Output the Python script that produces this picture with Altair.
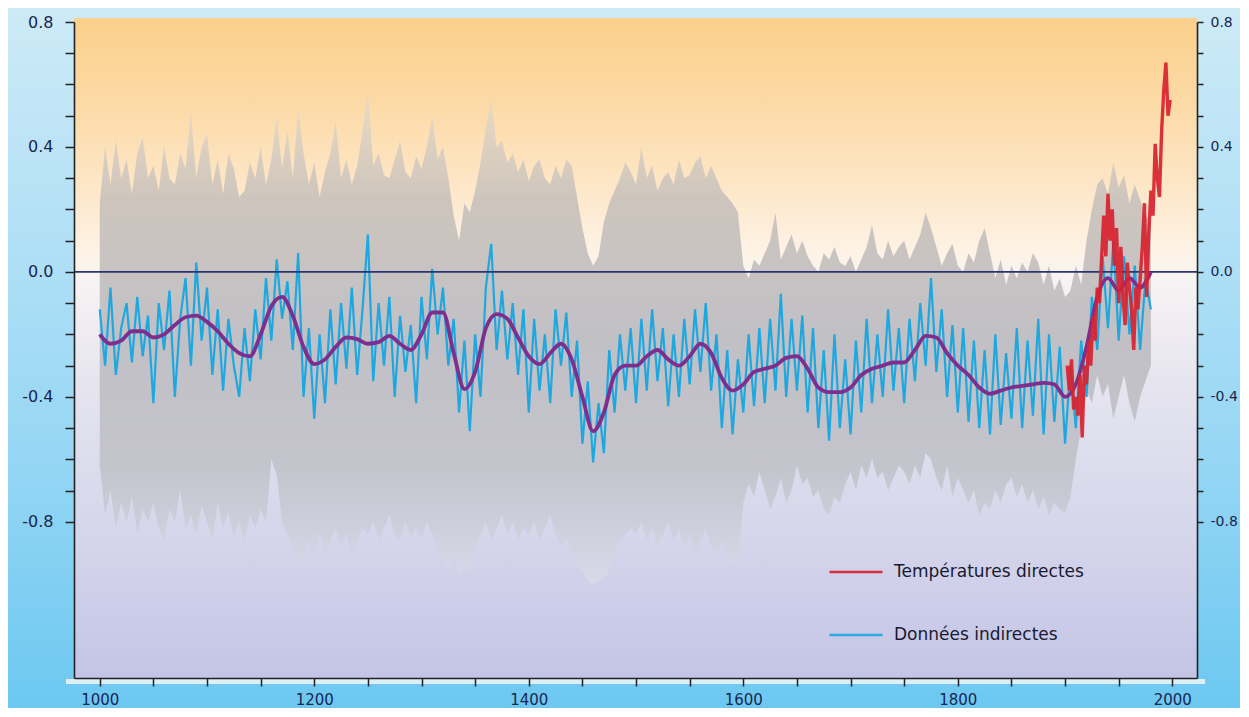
import altair as alt
import pandas as pd

# ---------------- data ----------------
RED_LABEL = "Températures directes"
BLUE_LABEL = "Données indirectes"

YEARS5 = list(range(1000, 1981, 5))
YEARS10 = list(range(1000, 1981, 10))
RED_YEARS = list(range(1902, 1999, 2))

# upper edge of the grey uncertainty band (5-year steps)
GREY_UPPER = [
    0.22, 0.40, 0.28, 0.42, 0.30, 0.36, 0.25, 0.38, 0.43, 0.30,
    0.34, 0.26, 0.40, 0.30, 0.28, 0.38, 0.33, 0.51, 0.30, 0.40,
    0.44, 0.28, 0.36, 0.25, 0.38, 0.33, 0.24, 0.26, 0.35, 0.30,
    0.40, 0.28, 0.36, 0.49, 0.33, 0.45, 0.30, 0.52, 0.38, 0.28,
    0.35, 0.24, 0.32, 0.38, 0.48, 0.30, 0.36, 0.28, 0.34, 0.45,
    0.58, 0.34, 0.38, 0.31, 0.30, 0.36, 0.42, 0.32, 0.30, 0.37,
    0.33, 0.40, 0.50, 0.36, 0.40, 0.30, 0.18, 0.10, 0.22, 0.19,
    0.26, 0.35, 0.46, 0.55, 0.40, 0.42, 0.35, 0.38, 0.32, 0.36,
    0.29, 0.34, 0.36, 0.30, 0.28, 0.34, 0.30, 0.36, 0.34, 0.24,
    0.14, 0.06, 0.02, 0.05, 0.16, 0.22, 0.26, 0.30, 0.35, 0.32,
    0.28, 0.40, 0.30, 0.34, 0.26, 0.30, 0.32, 0.28, 0.36, 0.30,
    0.31, 0.35, 0.37, 0.30, 0.34, 0.30, 0.26, 0.24, 0.22, 0.19,
    0.02, -0.02, 0.04, 0.02, 0.06, 0.10, 0.19, 0.04, 0.08, 0.12,
    0.06, 0.10, 0.05, 0.02, 0.00, 0.06, 0.04, 0.08, 0.03, 0.02,
    0.05, 0.00, 0.04, 0.08, 0.15, 0.06, 0.04, 0.10, 0.05, 0.08,
    0.10, 0.04, 0.08, 0.12, 0.19, 0.14, 0.08, 0.02, 0.06, 0.09,
    0.02, 0.00, 0.06, 0.03, 0.10, 0.14, 0.06, -0.02, 0.04, -0.04,
    0.02, -0.02, 0.03, 0.00, 0.06, 0.03, -0.04, 0.02, -0.06, -0.02,
    -0.08, -0.06, 0.02, -0.04, 0.10, 0.20, 0.28, 0.30, 0.25, 0.35,
    0.27, 0.31, 0.22, 0.28, 0.23, 0.18, 0.16,
]

# lower edge of the grey uncertainty band (5-year steps)
GREY_LOWER = [
    -0.62, -0.78, -0.70, -0.82, -0.74, -0.80, -0.72, -0.84, -0.76, -0.80,
    -0.74, -0.82, -0.86, -0.76, -0.80, -0.70, -0.82, -0.78, -0.84, -0.75,
    -0.80, -0.86, -0.74, -0.82, -0.77, -0.85, -0.80, -0.86, -0.78, -0.82,
    -0.76, -0.80, -0.60, -0.65, -0.80, -0.84, -0.88, -0.93, -0.90, -0.86,
    -0.92, -0.84, -0.90, -0.86, -0.82, -0.88, -0.84, -0.90, -0.86, -0.82,
    -0.84, -0.80, -0.86, -0.82, -0.78, -0.84, -0.86, -0.80, -0.85, -0.82,
    -0.86, -0.80, -0.84, -0.88, -0.92, -0.96, -0.90, -0.98, -0.94, -0.96,
    -0.90, -0.84, -0.80, -0.86, -0.82, -0.78, -0.84, -0.80, -0.86, -0.82,
    -0.84, -0.80, -0.86, -0.82, -0.78, -0.84, -0.88, -0.85, -0.90, -0.94,
    -0.96, -0.99, -1.00, -0.99, -0.98, -0.96, -0.90, -0.86, -0.84, -0.82,
    -0.84, -0.80, -0.86, -0.82, -0.88, -0.84, -0.80, -0.86, -0.82, -0.88,
    -0.84, -0.90, -0.86, -0.82, -0.88, -0.92, -0.86, -0.90, -0.94, -0.92,
    -0.74, -0.68, -0.72, -0.64, -0.70, -0.76, -0.72, -0.66, -0.74, -0.70,
    -0.62, -0.68, -0.66, -0.72, -0.70, -0.76, -0.78, -0.72, -0.74, -0.68,
    -0.64, -0.70, -0.62, -0.66, -0.60, -0.66, -0.64, -0.70, -0.66, -0.62,
    -0.64, -0.68, -0.62, -0.66, -0.58, -0.60, -0.66, -0.70, -0.62, -0.72,
    -0.66, -0.70, -0.74, -0.70, -0.78, -0.74, -0.76, -0.70, -0.74, -0.68,
    -0.66, -0.72, -0.68, -0.74, -0.70, -0.76, -0.72, -0.78, -0.74, -0.76,
    -0.77, -0.72, -0.60, -0.50, -0.38, -0.42, -0.33, -0.40, -0.36, -0.47,
    -0.40, -0.33, -0.42, -0.48, -0.40, -0.35, -0.30,
]

# proxy reconstruction (blue, 5-year steps)
PROXY = [
    -0.12, -0.30, -0.05, -0.33, -0.18, -0.10, -0.29, -0.08, -0.27, -0.14,
    -0.42, -0.10, -0.25, -0.06, -0.40, -0.15, -0.02, -0.30, 0.03, -0.22,
    -0.05, -0.33, -0.12, -0.38, -0.15, -0.30, -0.40, -0.18, -0.35, -0.12,
    -0.28, -0.02, -0.22, 0.04, -0.15, -0.03, -0.25, 0.06, -0.40, -0.18,
    -0.47, -0.20, -0.42, -0.12, -0.36, -0.10, -0.31, -0.05, -0.33, -0.12,
    0.12, -0.35, -0.10, -0.30, -0.08, -0.40, -0.14, -0.32, -0.17, -0.42,
    -0.08, -0.28, 0.01, -0.20, -0.05, -0.30, -0.15, -0.45, -0.22, -0.51,
    -0.20, -0.40, -0.05, 0.09, -0.25, -0.06, -0.28, -0.10, -0.33, -0.12,
    -0.45, -0.15, -0.38, -0.20, -0.42, -0.12, -0.30, -0.13, -0.40, -0.22,
    -0.55, -0.35, -0.61, -0.42, -0.58, -0.25, -0.45, -0.20, -0.38, -0.18,
    -0.42, -0.15, -0.38, -0.12, -0.35, -0.18, -0.43, -0.20, -0.40, -0.15,
    -0.36, -0.12, -0.32, -0.10, -0.38, -0.20, -0.50, -0.25, -0.52, -0.28,
    -0.45, -0.20, -0.43, -0.18, -0.42, -0.15, -0.38, -0.07, -0.40, -0.15,
    -0.38, -0.14, -0.45, -0.18, -0.50, -0.25, -0.54, -0.20, -0.50, -0.28,
    -0.52, -0.22, -0.45, -0.15, -0.42, -0.20, -0.40, -0.12, -0.38, -0.18,
    -0.42, -0.15, -0.35, -0.10, -0.30, -0.02, -0.32, -0.12, -0.40, -0.17,
    -0.45, -0.18, -0.48, -0.22, -0.50, -0.25, -0.52, -0.20, -0.49, -0.26,
    -0.47, -0.18, -0.50, -0.22, -0.46, -0.15, -0.52, -0.20, -0.48, -0.24,
    -0.55, -0.30, -0.50, -0.22, -0.40, -0.08, -0.25, 0.05, -0.18, 0.10,
    -0.22, 0.05, -0.20, 0.02, -0.25, -0.02, -0.12,
]

# smoothed curve (purple, 10-year steps)
SMOOTH = [
    -0.20, -0.23, -0.22, -0.19, -0.19, -0.21, -0.20, -0.17, -0.145, -0.14,
    -0.16, -0.19, -0.23, -0.26, -0.27, -0.20, -0.11, -0.08, -0.14, -0.24,
    -0.295, -0.28, -0.24, -0.21, -0.215, -0.23, -0.225, -0.205, -0.23, -0.25,
    -0.20, -0.13, -0.13, -0.26, -0.375, -0.32, -0.18, -0.135, -0.15, -0.21,
    -0.27, -0.295, -0.26, -0.23, -0.28, -0.40, -0.51, -0.45, -0.33, -0.30,
    -0.30, -0.27, -0.25, -0.28, -0.30, -0.27, -0.23, -0.26, -0.34, -0.38,
    -0.36, -0.32, -0.31, -0.30, -0.275, -0.27, -0.31, -0.37, -0.385, -0.385,
    -0.37, -0.33, -0.31, -0.30, -0.29, -0.29, -0.25, -0.205, -0.21, -0.26,
    -0.30, -0.33, -0.37, -0.39, -0.38, -0.37, -0.365, -0.36, -0.355, -0.36,
    -0.40, -0.36, -0.24, -0.08, -0.02, -0.06, -0.02, -0.05, 0.00,
]

# instrumental record (red, 2-year steps)
INSTRUMENTAL = [
    -0.30, -0.38, -0.28, -0.44, -0.40, -0.46, -0.33, -0.53, -0.30, -0.36,
    -0.22, -0.30, -0.14, -0.22, -0.05, -0.10, 0.04, 0.18, 0.05, 0.25,
    0.10, 0.20, 0.02, 0.14, -0.10, 0.08, -0.08, -0.17, 0.03, -0.05,
    -0.12, -0.25, -0.05, -0.12, -0.02, 0.08, 0.22, -0.08, 0.12, 0.26,
    0.18, 0.41, 0.30, 0.24, 0.45, 0.58, 0.67, 0.50, 0.55,
]

Y_TICKS = [round(-0.8 + 0.1 * i, 1) for i in range(17)]
X_TICKS = list(range(1000, 2001, 50))

df_band = pd.DataFrame({"year": YEARS5, "upper": GREY_UPPER, "lower": GREY_LOWER})
df_blue = pd.DataFrame({"year": YEARS5, "value": PROXY, "series": BLUE_LABEL})
df_purple = pd.DataFrame({"year": YEARS10, "value": SMOOTH})
df_red = pd.DataFrame({"year": RED_YEARS, "value": INSTRUMENTAL, "series": RED_LABEL})
df_zero = pd.DataFrame({"value": [0.0]})
df_one = pd.DataFrame({"k": [0]})

# ---------------- layout ----------------
PW, PH = 1123, 656
PAD = {"left": 66, "top": 14, "right": 43, "bottom": 30}
FONT = "DejaVu Sans"
INK = "#1a2650"

xscale = alt.Scale(domain=[976, 2023], nice=False, zero=False)
yscale = alt.Scale(domain=[-1.3, 0.8], nice=False, zero=False)

xaxis = alt.Axis(
    values=X_TICKS,
    labelExpr="datum.value % 200 == 0 ? '' + datum.value : ''",
    tickSize=8, tickWidth=1.5, tickColor="#222",
    domainColor="#222", domainWidth=1.6,
    labelFont=FONT, labelFontSize=15, labelColor=INK, labelPadding=6,
    labelOverlap=False, labelFlush=False, grid=False, title=None, zindex=2,
)

Y_LABEL = (
    "abs(round(datum.value * 10)) % 4 == 0 ? "
    "(datum.value < 0 ? '-' + format(-datum.value, '.1f') : format(datum.value, '.1f')) : ''"
)


def yaxis(orient, tick, pad, size):
    return alt.Axis(
        orient=orient,
        values=Y_TICKS,
        labelExpr=Y_LABEL,
        tickSize=tick, tickWidth=1.5, tickColor="#222",
        domainColor="#222", domainWidth=1.6,
        labelFont=FONT, labelFontSize=size, labelColor=INK, labelPadding=pad,
        labelOverlap=False, grid=False, title=None, zindex=2,
    )


X = alt.X("year:Q", scale=xscale, axis=xaxis)

outer_bg = alt.Chart(df_one).mark_rect(
    color=alt.Gradient(
        gradient="linear", x1=0, x2=0, y1=0, y2=1,
        stops=[
            alt.GradientStop(color="#cdeaf6", offset=0),
            alt.GradientStop(color="#b4e1f6", offset=0.3),
            alt.GradientStop(color="#95d6f4", offset=0.65),
            alt.GradientStop(color="#6cc8f1", offset=1),
        ],
    )
).encode(
    x=alt.value(-PAD["left"]), x2=alt.value(PW + PAD["right"]),
    y=alt.value(-PAD["top"]), y2=alt.value(PH + PAD["bottom"]),
)

plot_bg = alt.Chart(df_one).mark_rect(
    color=alt.Gradient(
        gradient="linear", x1=0, x2=0, y1=0, y2=1,
        stops=[
            alt.GradientStop(color="#fbd08c", offset=0),
            alt.GradientStop(color="#fcd79f", offset=0.1),
            alt.GradientStop(color="#fde6c6", offset=0.25),
            alt.GradientStop(color="#fdf3e7", offset=0.36),
            alt.GradientStop(color="#f6f3f3", offset=0.40),
            alt.GradientStop(color="#e5e4ef", offset=0.56),
            alt.GradientStop(color="#d4d4eb", offset=0.8),
            alt.GradientStop(color="#c4c5e6", offset=1),
        ],
    )
).encode(x=alt.value(0), x2=alt.value(PW), y=alt.value(-4), y2=alt.value(PH))

strip = alt.Chart(df_one).mark_rect(color="#dcf0f6").encode(
    x=alt.value(-8), x2=alt.value(PW + 8), y=alt.value(PH + 1), y2=alt.value(PH + 6)
)

band = alt.Chart(df_band).mark_area(
    color=alt.Gradient(
        gradient="linear", x1=0, x2=0, y1=0, y2=1,
        stops=[
            alt.GradientStop(color="#eadbc6", offset=0),
            alt.GradientStop(color="#c9c2bb", offset=0.22),
            alt.GradientStop(color="#bdbcc1", offset=0.5),
            alt.GradientStop(color="#c2c2ca", offset=0.76),
            alt.GradientStop(color="#d9d9ea", offset=1),
        ],
    ),
    opacity=0.92,
).encode(
    x=X,
    y=alt.Y("upper:Q", scale=yscale, axis=yaxis("left", 9, 12, 16)),
    y2="lower:Q",
)

color = alt.Color(
    "series:N",
    scale=alt.Scale(domain=[RED_LABEL, BLUE_LABEL], range=["#d8222e", "#1fa8e0"]),
    legend=alt.Legend(
        orient="none", legendX=754, legendY=522, title=None,
        symbolType="stroke", symbolSize=2809, symbolStrokeWidth=2.5,
        labelFont=FONT, labelFontSize=17, labelColor="#1a1a30",
        labelOffset=10, labelLimit=400, rowPadding=27, padding=0,
    ),
)

blue = alt.Chart(df_blue).mark_line(strokeWidth=2.2).encode(
    x=X, y=alt.Y("value:Q", scale=yscale, axis=None), color=color
)

zero = alt.Chart(df_zero).mark_rule(color="#2b3372", strokeWidth=1.6).encode(
    y=alt.Y("value:Q", scale=yscale, axis=yaxis("right", 6, 7, 14))
)

purple = alt.Chart(df_purple).mark_line(
    color="#7e2f8e", strokeWidth=3.8, interpolate="monotone"
).encode(x=X, y=alt.Y("value:Q", scale=yscale, axis=None))

red = alt.Chart(df_red).mark_line(strokeWidth=3.4, opacity=0.92).encode(
    x=X, y=alt.Y("value:Q", scale=yscale, axis=None), color=color
)

chart = (
    alt.layer(outer_bg, plot_bg, strip, band, blue, zero, purple, red)
    .resolve_scale(y="independent")
    .properties(
        width=PW, height=PH,
        autosize=alt.AutoSizeParams(type="none"),
        padding=PAD,
        background="#9fd9f4",
    )
    .configure_view(strokeWidth=0)
)

chart.save("out.html", embed_options={"renderer": "svg", "actions": False})
